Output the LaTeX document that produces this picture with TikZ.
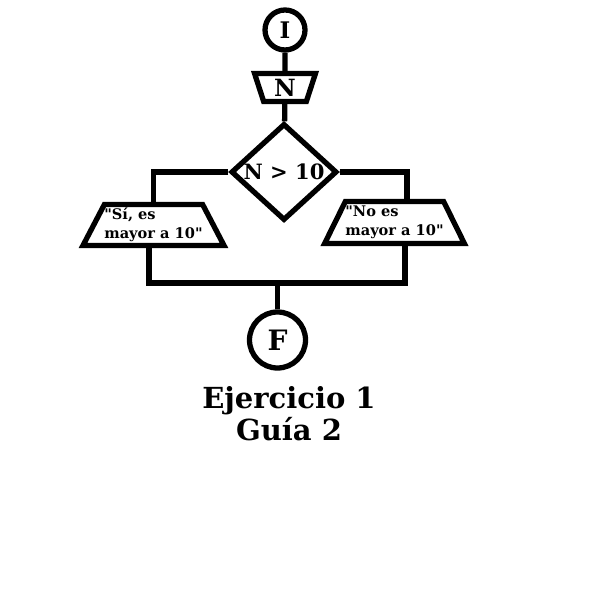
\documentclass[tikz,border=0pt]{standalone}
\usepackage{fontspec}
\setmainfont{DejaVu Serif}
\usetikzlibrary{shapes.geometric}

\begin{document}
\begin{tikzpicture}[line width=3pt,font=\bfseries,
  terminal/.style={draw,circle,inner sep=0pt},
  entrada/.style={draw,trapezium,trapezium stretches=true,shape border rotate=180,
    trapezium angle=75,inner sep=0pt,minimum width=1.22cm,minimum height=0.56cm},
  salida/.style={draw,trapezium,trapezium stretches=true,trapezium angle=58,
    inner sep=0pt,align=left,font=\bfseries\fontsize{8.3}{11}\selectfont},
  decision/.style={draw,diamond,inner sep=0pt,minimum width=2.12cm,minimum height=1.76cm}]
  \useasboundingbox (0,0) rectangle (12.28,-12.28);
  % inicio y lectura
  \node[terminal,minimum size=0.80cm,font=\bfseries\fontsize{13}{15}\selectfont] (ini) at (5.70,-0.60) {I};
  \node[entrada,font=\bfseries\fontsize{13.5}{15}\selectfont] (lee) at (5.70,-1.75) {N};
  % condicion
  \node[decision,font=\bfseries\fontsize{12}{14}\selectfont] (cond) at (5.68,-3.44) {N > 10};
  % salidas
  \node[salida,minimum width=2.76cm,minimum height=0.82cm] (si) at (3.07,-4.50)
    {\textquotedbl Sí, es\\mayor a 10\textquotedbl};
  \node[salida,minimum width=2.72cm,minimum height=0.84cm] (no) at (7.89,-4.45)
    {\textquotedbl No es\\mayor a 10\textquotedbl};
  % fin
  \coordinate (une) at (5.55,-5.66);
  \node[terminal,minimum size=1.12cm,font=\bfseries\fontsize{16}{18}\selectfont] (fin) at (5.55,-6.80) {F};
  \node[align=center,font=\bfseries\fontsize{16.5}{18}\selectfont] (titulo) at (5.78,-8.28) {Ejercicio 1\\Guía 2};
  % conexiones
  \draw (ini) -- (lee);
  \draw (lee) -- (cond);
  \draw (cond.west) -| (si.north);
  \draw (cond.east) -| ([xshift=0.25cm]no.north);
  \draw ([xshift=-0.09cm]si.south) |- (une) -| ([xshift=0.21cm]no.south);
  \draw (une) -- (fin);
\end{tikzpicture}
\end{document}
